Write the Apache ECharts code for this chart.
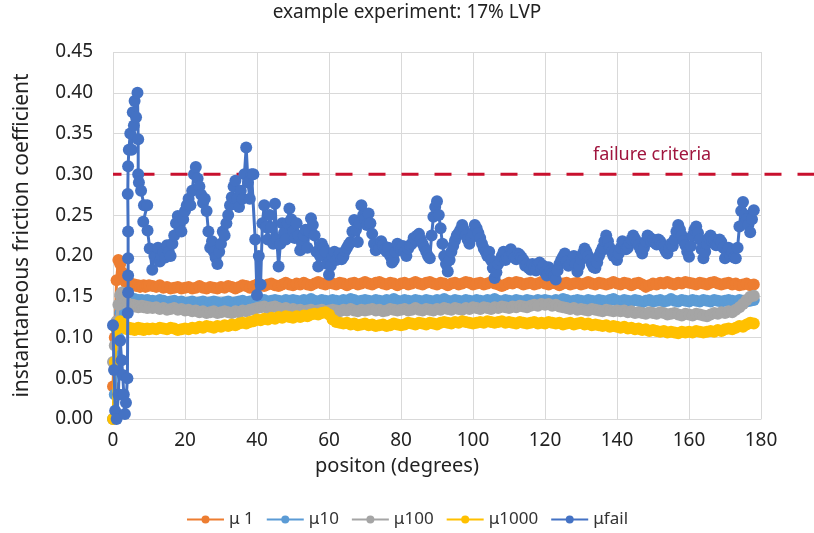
<!DOCTYPE html>
<html><head><meta charset="utf-8">
<script src="https://cdn.jsdelivr.net/npm/echarts@6/dist/echarts.min.js"></script>
<style>html,body{margin:0;padding:0;background:#fff}#c{width:814px;height:533px}</style>
</head><body><div id="c"></div>
<script>
// ---- data ----
const titleText = 'example experiment: 17% LVP';
const xName = 'positon (degrees)';
const yName = 'instantaneous friction coefficient';
const seriesNames = ['\u03bc 1', '\u03bc10', '\u03bc100', '\u03bc1000', '\u03bcfail'];
const failureLabel = 'failure criteria';
const failureLevel = [0.30, 0.30];
const failureSpan = [0, 1];

const bandPos = [0,0.5,1,1.5,2,2.5,3,3.5,4,4.5,5,5.5,6,6.5,7,7.5,8,8.5,9,9.5,10,
 11,12,13,14,15,16,17,18,19,20,21,22,23,24,25,26,27,28,29,30,
 31,32,33,34,35,36,37,38,39,40,41,42,43,44,45,46,47,48,49,50,
 51,52,53,54,55,56,57,58,59,60,61,62,63,64,65,66,67,68,69,70,
 71,72,73,74,75,76,77,78,79,80,81,82,83,84,85,86,87,88,89,90,
 91,92,93,94,95,96,97,98,99,100,101,102,103,104,105,106,107,108,109,110,
 111,112,113,114,115,116,117,118,119,120,121,122,123,124,125,126,127,128,129,130,
 131,132,133,134,135,136,137,138,139,140,141,142,143,144,145,146,147,148,149,150,
 151,152,153,154,155,156,157,158,159,160,161,162,163,164,165,166,167,168,169,170,
 171,172,173,174,175,176,177,178];

const mu1 = [0.04,0.10,0.17,0.195,0.19,0.18,0.172,0.168,0.166,0.165,0.166,0.164,0.165,0.163,0.164,0.162,0.163,0.164,0.162,0.163,0.164,
 0.163,0.162,0.164,0.161,0.162,0.160,0.161,0.162,0.160,0.161,
 0.162,0.160,0.161,0.163,0.161,0.160,0.162,0.161,0.160,0.162,
 0.161,0.163,0.162,0.160,0.162,0.164,0.163,0.161,0.163,0.165,
 0.164,0.163,0.165,0.166,0.164,0.163,0.165,0.167,0.165,0.164,
 0.166,0.165,0.167,0.165,0.164,0.166,0.168,0.166,0.165,0.167,
 0.166,0.165,0.167,0.166,0.164,0.166,0.167,0.165,0.166,0.168,
 0.166,0.165,0.167,0.168,0.166,0.165,0.167,0.166,0.164,0.166,
 0.167,0.165,0.166,0.168,0.166,0.165,0.167,0.168,0.166,0.165,
 0.167,0.166,0.164,0.166,0.167,0.165,0.166,0.168,0.167,0.165,
 0.166,0.167,0.165,0.166,0.168,0.166,0.165,0.163,0.165,0.167,
 0.166,0.168,0.167,0.165,0.166,0.167,0.165,0.166,0.168,0.166,
 0.165,0.167,0.166,0.164,0.166,0.167,0.165,0.166,0.167,0.165,
 0.166,0.168,0.166,0.165,0.167,0.166,0.165,0.166,0.168,0.166,
 0.165,0.167,0.166,0.164,0.166,0.167,0.165,0.162,0.164,0.166,
 0.165,0.167,0.166,0.168,0.166,0.165,0.167,0.166,0.168,0.167,
 0.166,0.165,0.167,0.166,0.165,0.167,0.168,0.166,0.165,0.166,
 0.167,0.165,0.166,0.164,0.165,0.166,0.164,0.165];

const mu10 = [0.0,0.03,0.06,0.10,0.13,0.145,0.15,0.149,0.148,0.147,0.148,0.146,0.147,0.145,0.146,0.145,0.146,0.144,0.145,0.146,0.145,
 0.145,0.144,0.146,0.145,0.143,0.144,0.145,0.143,0.144,0.142,
 0.143,0.144,0.142,0.143,0.144,0.142,0.143,0.144,0.143,0.142,
 0.143,0.144,0.142,0.143,0.144,0.145,0.143,0.144,0.145,0.144,
 0.145,0.146,0.144,0.145,0.146,0.145,0.144,0.146,0.145,0.146,
 0.145,0.144,0.146,0.145,0.147,0.145,0.144,0.146,0.145,0.144,
 0.146,0.145,0.144,0.146,0.145,0.147,0.146,0.144,0.145,0.146,
 0.145,0.144,0.146,0.145,0.144,0.146,0.145,0.147,0.145,0.144,
 0.146,0.145,0.144,0.146,0.145,0.144,0.146,0.145,0.144,0.146,
 0.145,0.147,0.145,0.144,0.146,0.145,0.144,0.146,0.145,0.144,
 0.146,0.145,0.144,0.146,0.145,0.147,0.145,0.144,0.146,0.145,
 0.144,0.146,0.145,0.144,0.146,0.145,0.144,0.146,0.145,0.146,
 0.145,0.144,0.146,0.145,0.147,0.146,0.144,0.145,0.146,0.145,
 0.144,0.146,0.145,0.144,0.146,0.145,0.144,0.146,0.147,0.145,
 0.144,0.146,0.145,0.144,0.146,0.145,0.143,0.145,0.146,0.144,
 0.145,0.146,0.144,0.145,0.147,0.145,0.144,0.146,0.145,0.144,
 0.146,0.145,0.144,0.146,0.145,0.144,0.146,0.145,0.144,0.145,
 0.146,0.145,0.144,0.146,0.145,0.144,0.145,0.146];

const mu100 = [0.07,0.09,0.12,0.14,0.152,0.155,0.15,0.145,0.142,0.14,0.139,0.14,0.138,0.139,0.137,0.138,0.139,0.137,0.138,0.136,0.137,
 0.136,0.137,0.135,0.136,0.134,0.135,0.136,0.134,0.135,0.133,
 0.134,0.132,0.133,0.131,0.132,0.130,0.131,0.132,0.130,0.131,
 0.132,0.131,0.130,0.132,0.131,0.133,0.132,0.134,0.135,0.136,
 0.137,0.138,0.136,0.137,0.138,0.136,0.135,0.136,0.134,0.135,
 0.133,0.134,0.132,0.133,0.134,0.132,0.133,0.134,0.132,0.133,
 0.134,0.133,0.132,0.134,0.133,0.135,0.133,0.132,0.134,0.133,
 0.134,0.135,0.133,0.134,0.132,0.133,0.135,0.134,0.133,0.134,
 0.135,0.133,0.134,0.136,0.134,0.133,0.135,0.134,0.133,0.135,
 0.134,0.136,0.135,0.134,0.136,0.135,0.134,0.136,0.135,0.137,
 0.136,0.135,0.137,0.136,0.135,0.137,0.136,0.138,0.137,0.136,
 0.138,0.137,0.139,0.138,0.137,0.139,0.140,0.139,0.141,0.140,
 0.141,0.139,0.140,0.138,0.137,0.136,0.135,0.136,0.134,0.135,
 0.134,0.133,0.135,0.134,0.133,0.132,0.134,0.133,0.132,0.133,
 0.132,0.133,0.131,0.132,0.130,0.131,0.130,0.129,0.131,0.130,
 0.129,0.131,0.130,0.128,0.129,0.130,0.128,0.127,0.129,0.128,
 0.127,0.129,0.128,0.127,0.126,0.128,0.130,0.129,0.131,0.130,
 0.132,0.131,0.134,0.137,0.141,0.146,0.150,0.151];

const mu1000 = [0.0,0.07,0.11,0.115,0.12,0.118,0.113,0.111,0.110,0.112,0.110,0.111,0.109,0.110,0.112,0.110,0.111,0.109,0.110,0.111,0.110,
 0.111,0.110,0.112,0.111,0.110,0.112,0.111,0.109,0.110,0.111,
 0.110,0.112,0.111,0.113,0.112,0.114,0.113,0.112,0.114,0.113,
 0.115,0.114,0.116,0.115,0.117,0.118,0.117,0.119,0.120,0.122,
 0.121,0.123,0.122,0.124,0.123,0.125,0.124,0.126,0.125,0.124,
 0.126,0.125,0.127,0.126,0.128,0.129,0.128,0.130,0.131,0.128,
 0.122,0.119,0.118,0.117,0.118,0.116,0.117,0.115,0.116,0.117,
 0.115,0.116,0.114,0.115,0.116,0.114,0.115,0.117,0.116,0.115,
 0.116,0.118,0.117,0.116,0.118,0.117,0.116,0.118,0.117,0.116,
 0.118,0.119,0.118,0.117,0.119,0.118,0.120,0.119,0.118,0.117,
 0.118,0.119,0.118,0.120,0.119,0.118,0.119,0.120,0.118,0.119,
 0.118,0.117,0.119,0.118,0.117,0.118,0.119,0.117,0.118,0.117,
 0.119,0.118,0.117,0.118,0.116,0.117,0.118,0.116,0.117,0.118,
 0.116,0.117,0.115,0.116,0.115,0.114,0.115,0.113,0.114,0.113,
 0.112,0.113,0.111,0.112,0.110,0.111,0.109,0.110,0.108,0.109,
 0.108,0.107,0.108,0.106,0.107,0.106,0.105,0.107,0.106,0.107,
 0.106,0.108,0.107,0.106,0.107,0.108,0.107,0.109,0.108,0.110,
 0.111,0.110,0.112,0.114,0.113,0.116,0.118,0.117];

const failPos = [0,0.3,0.6,1,1.5,2,2.4,2.7,3,3.3,3.6,4,4.1,4.2,4.2,4.2,4.2,4.1,4.2,4.4,
 4.8,5.2,5.5,5.8,6,6.4,6.8,7,7,7.2,7.8,8.6,9.5,8.4,9.6,10.2,10.9,11.5,
 12,12.5,13,13.5,14,14.5,15,15.5,16,16.5,17,17.5,18,18.5,19,19.5,20,20.5,21,21.5,
 22,22.5,23,23.5,24,24.5,25,25.5,26,26.5,27,27.5,28,28.5,29,29.5,30,30.5,31,31.5,
 32,32.5,33,33.5,34,34.5,35,35.5,36,36.5,37,37.5,38,38.5,39,39.5,40,40.5,41,41.5,
 42,42.5,43,43.5,44,44.5,45,45.5,46,46.5,47,47.5,48,48.5,49,49.5,50,50.5,51,51.5,
 52,52.5,53,53.5,54,54.5,55,55.5,56,56.5,57,57.5,58,58.5,59,59.5,60,60.5,61,61.5,
 62,62.5,63,63.5,64,64.5,65,65.5,66,66.5,67,67.5,68,68.5,69,69.5,70,70.5,71,71.5,
 72,72.5,73,73.5,74,74.5,75,75.5,76,76.5,77,77.5,78,78.5,79,79.5,80,80.5,81,81.5,
 82,82.5,83,83.5,84,84.5,85,85.5,86,86.5,87,87.5,88,88.5,89,89.5,90,90.5,91,91.5,
 92,92.5,93,93.5,94,94.5,95,95.5,96,96.5,97,97.5,98,98.5,99,99.5,100,100.5,101,101.5,
 102,102.5,103,103.5,104,104.5,105,105.5,106,106.5,107,107.5,108,108.5,109,109.5,110,110.5,111,111.5,
 112,112.5,113,113.5,114,114.5,115,115.5,116,116.5,117,117.5,118,118.5,119,119.5,120,120.5,121,121.5,
 122,122.5,123,123.5,124,124.5,125,125.5,126,126.5,127,127.5,128,128.5,129,129.5,130,130.5,131,131.5,
 132,132.5,133,133.5,134,134.5,135,135.5,136,136.5,137,137.5,138,138.5,139,139.5,140,140.5,141,141.5,
 142,142.5,143,143.5,144,144.5,145,145.5,146,146.5,147,147.5,148,148.5,149,149.5,150,150.5,151,151.5,
 152,152.5,153,153.5,154,154.5,155,155.5,156,156.5,157,157.5,158,158.5,159,159.5,160,160.5,161,161.5,
 162,162.5,163,163.5,164,164.5,165,165.5,166,166.5,167,167.5,168,168.5,169,169.5,170,170.5,171,171.5,
 172,172.5,173,173.5,174,174.5,175,175.5,176,176.5,177,177.5,178];

const muFail = [0.115,0.06,0.01,0.0,0.03,0.096,0.072,0.054,0.03,0.006,0.02,0.05,0.13,0.155,0.176,0.197,0.23,0.276,0.31,0.33,
 0.35,0.33,0.376,0.36,0.39,0.37,0.40,0.343,0.30,0.29,0.28,0.262,0.262,0.242,0.231,0.209,0.183,0.20,
 0.20,0.21,0.193,0.20,0.205,0.198,0.213,0.205,0.20,0.215,
 0.225,0.24,0.249,0.238,0.23,0.245,0.255,0.262,0.27,0.262,
 0.28,0.30,0.309,0.295,0.285,0.275,0.265,0.27,0.255,0.23,
 0.21,0.218,0.205,0.198,0.19,0.205,0.215,0.23,0.225,0.24,
 0.25,0.262,0.272,0.285,0.292,0.27,0.26,0.28,0.27,0.30,
 0.333,0.29,0.27,0.30,0.30,0.22,0.152,0.20,0.165,0.24,
 0.262,0.235,0.22,0.25,0.235,0.215,0.264,0.22,0.187,0.215,
 0.24,0.228,0.22,0.24,0.258,0.245,0.23,0.222,0.24,0.225,
 0.207,0.215,0.225,0.232,0.21,0.23,0.246,0.238,0.225,0.205,
 0.187,0.20,0.215,0.21,0.205,0.19,0.177,0.188,0.20,0.205,
 0.195,0.20,0.203,0.196,0.199,0.206,0.21,0.214,0.217,0.23,
 0.244,0.232,0.217,0.24,0.262,0.25,0.245,0.238,0.252,0.24,
 0.227,0.215,0.207,0.212,0.21,0.218,0.213,0.208,0.205,0.21,
 0.20,0.192,0.195,0.205,0.215,0.21,0.208,0.212,0.205,0.20,
 0.209,0.213,0.215,0.222,0.22,0.225,0.227,0.22,0.215,0.21,
 0.205,0.20,0.197,0.225,0.248,0.26,0.267,0.25,0.234,0.215,
 0.20,0.19,0.181,0.195,0.205,0.212,0.219,0.225,0.228,0.232,
 0.238,0.232,0.225,0.22,0.215,0.222,0.228,0.238,0.234,0.228,
 0.222,0.215,0.209,0.205,0.20,0.205,0.195,0.185,0.173,0.18,
 0.19,0.195,0.20,0.205,0.195,0.198,0.20,0.208,0.203,0.198,
 0.196,0.203,0.201,0.198,0.195,0.188,0.19,0.185,0.183,0.19,
 0.186,0.182,0.189,0.192,0.184,0.188,0.18,0.176,0.186,0.182,
 0.179,0.175,0.171,0.182,0.19,0.195,0.199,0.203,0.193,0.188,
 0.19,0.195,0.20,0.19,0.181,0.188,0.196,0.203,0.209,0.205,
 0.20,0.195,0.19,0.186,0.185,0.192,0.20,0.205,0.21,0.218,
 0.225,0.218,0.21,0.205,0.20,0.205,0.195,0.203,0.21,0.218,
 0.215,0.208,0.21,0.216,0.22,0.225,0.221,0.217,0.213,0.208,
 0.203,0.21,0.218,0.225,0.223,0.218,0.22,0.216,0.214,0.22,
 0.218,0.213,0.211,0.206,0.203,0.21,0.215,0.212,0.22,0.23,
 0.238,0.232,0.225,0.218,0.213,0.205,0.199,0.212,0.225,0.232,
 0.236,0.228,0.22,0.208,0.197,0.205,0.215,0.222,0.225,0.218,
 0.22,0.213,0.214,0.22,0.217,0.21,0.197,0.205,0.21,0.20,
 0.205,0.198,0.197,0.21,0.236,0.255,0.266,0.25,0.245,0.238,
 0.229,0.245,0.256];

const colors = ['#ED7D31', '#5B9BD5', '#A5A5A5', '#FFC000', '#4472C4'];
const seriesValues = [mu1, mu10, mu100, mu1000, muFail];
const seriesPos = [bandPos, bandPos, bandPos, bandPos, failPos];

// ---- chart ----
const FONT = '"Noto Sans", sans-serif';
const chart = echarts.init(document.getElementById('c'), null, {renderer: 'canvas'});
const pair = (xs, ys) => ys.map((v, i) => [xs[i], v]);

const series = seriesNames.map((n, k) => ({
  name: n, type: 'line', xAxisIndex: 0, yAxisIndex: 0,
  data: pair(seriesPos[k], seriesValues[k]),
  symbol: 'circle', symbolSize: 12, showAllSymbol: true,
  lineStyle: {width: 3, color: colors[k]},
  itemStyle: {color: colors[k]},
  animation: false, z: 2 + k
}));
series.push({
  name: 'failure', type: 'line', xAxisIndex: 1, yAxisIndex: 1,
  data: pair(failureSpan, failureLevel), symbol: 'none', silent: true,
  lineStyle: {width: 3, color: '#C8102E', type: [17, 16], dashOffset: 8.5},
  animation: false, z: 1
});

chart.setOption({
  backgroundColor: '#fff',
  textStyle: {fontFamily: FONT},
  title: {text: titleText, left: 'center', top: 3, padding: 0,
    textStyle: {fontSize: 19, fontWeight: 'normal', color: '#222', fontFamily: FONT}},
  legend: {data: seriesNames, top: 506, left: 'center', itemWidth: 37, itemHeight: 10, itemGap: 12,
    textStyle: {fontSize: 17, color: '#333', fontFamily: FONT}},
  grid: [
    {left: 113, right: 53, top: 52, bottom: 114},
    {left: 113, right: 0, top: 52, bottom: 114}
  ],
  xAxis: [
    {type: 'value', gridIndex: 0, min: 0, max: 180, interval: 20,
     axisLine: {show: true, lineStyle: {color: '#d9d9d9', width: 1}},
     axisTick: {show: false},
     splitLine: {show: true, lineStyle: {color: '#d9d9d9', width: 1}},
     axisLabel: {fontSize: 19, color: '#222', margin: 12, fontFamily: FONT},
     name: xName, nameLocation: 'middle', nameGap: 37,
     nameTextStyle: {fontSize: 20, color: '#222', fontFamily: FONT, padding: [0, 80, 0, 0]}},
    {type: 'value', gridIndex: 1, min: 0, max: 1, show: false}
  ],
  yAxis: [
    {type: 'value', gridIndex: 0, min: 0, max: 0.45, interval: 0.05,
     axisLine: {show: false}, axisTick: {show: false},
     splitLine: {show: true, lineStyle: {color: '#d9d9d9', width: 1}},
     axisLabel: {fontSize: 19, color: '#222', margin: 20, fontFamily: FONT, formatter: v => v.toFixed(2)},
     name: yName, nameLocation: 'middle', nameGap: 80,
     nameTextStyle: {fontSize: 21, color: '#222', fontFamily: FONT}},
    {type: 'value', gridIndex: 1, min: 0, max: 0.45, show: false}
  ],
  graphic: [{type: 'text', left: 593, top: 146,
    style: {text: failureLabel, fontSize: 18, fill: '#A0153E', fontFamily: FONT}}],
  series: series
});
</script></body></html>
